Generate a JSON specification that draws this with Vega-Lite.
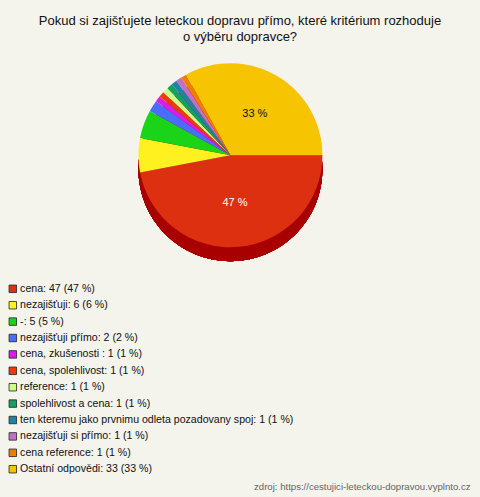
{
  "$schema": "https://vega.github.io/schema/vega-lite/v6.json",
  "autosize": "none",
  "padding": 0.5,
  "width": 479,
  "height": 496,
  "background": "#f4f4ec",
  "config": {
    "view": {"stroke": "#000000", "strokeWidth": 1, "fill": "#f4f4ec"},
    "font": "Liberation Sans"
  },
  "title": {
    "text": ["Pokud si zajišťujete leteckou dopravu přímo, které kritérium rozhoduje", "o výběru dopravce?"],
    "orient": "top",
    "frame": "group",
    "anchor": "middle",
    "baseline": "top",
    "offset": -43,
    "fontSize": 13,
    "fontWeight": "normal",
    "font": "Liberation Sans",
    "color": "#111111",
    "lineHeight": 16
  },
  "datasets": {
    "answers": [
      {"idx": 0, "answer": "cena", "count": 47, "pct": "47 %", "label": "cena: 47 (47 %)"},
      {"idx": 1, "answer": "nezajišťuji", "count": 6, "pct": "6 %", "label": "nezajišťuji: 6 (6 %)"},
      {"idx": 2, "answer": "-", "count": 5, "pct": "5 %", "label": "-: 5 (5 %)"},
      {"idx": 3, "answer": "nezajišťuji přímo", "count": 2, "pct": "2 %", "label": "nezajišťuji přímo: 2 (2 %)"},
      {"idx": 4, "answer": "cena, zkušenosti ", "count": 1, "pct": "1 %", "label": "cena, zkušenosti : 1 (1 %)"},
      {"idx": 5, "answer": "cena, spolehlivost", "count": 1, "pct": "1 %", "label": "cena, spolehlivost: 1 (1 %)"},
      {"idx": 6, "answer": "reference", "count": 1, "pct": "1 %", "label": "reference: 1 (1 %)"},
      {"idx": 7, "answer": "spolehlivost a cena", "count": 1, "pct": "1 %", "label": "spolehlivost a cena: 1 (1 %)"},
      {"idx": 8, "answer": "ten kteremu jako prvnimu odleta pozadovany spoj", "count": 1, "pct": "1 %", "label": "ten kteremu jako prvnimu odleta pozadovany spoj: 1 (1 %)"},
      {"idx": 9, "answer": "nezajišťuji si přímo", "count": 1, "pct": "1 %", "label": "nezajišťuji si přímo: 1 (1 %)"},
      {"idx": 10, "answer": "cena  reference", "count": 1, "pct": "1 %", "label": "cena  reference: 1 (1 %)"},
      {"idx": 11, "answer": "Ostatní odpovědi", "count": 33, "pct": "33 %", "label": "Ostatní odpovědi: 33 (33 %)"}
    ],
    "source": [
      {"src": "zdroj: https://cestujici-leteckou-dopravou.vyplnto.cz"}
    ]
  },
  "data": {"name": "answers"},
  "layer": [
    {
      "mark": {"type": "arc", "radius": 92, "color": "#a80000", "x": {"expr": "width*0.48"}, "y": {"expr": "height*0.312+14"}},
      "encoding": {}
    },
    {
      "mark": {"type": "arc", "radius": 92, "x": {"expr": "width*0.48"}, "y": {"expr": "height*0.312"}},
      "encoding": {
        "theta": {"field": "count", "type": "quantitative", "stack": true, "scale": {"range": [1.5708, 7.854]}},
        "order": {"field": "idx", "type": "quantitative"},
        "color": {
          "field": "label", "type": "nominal", "sort": null,
          "scale": {"range": ["#dc3010", "#fff020", "#1ad41a", "#4a6cff", "#d81ee6", "#ee3a08", "#ccff88", "#14a060", "#1e84a4", "#c070c8", "#f07c00", "#f6c400"]},
          "legend": {
            "orient": "none", "legendX": 7, "legendY": 283, "title": null,
            "symbolType": "square", "symbolSize": 56, "symbolStrokeColor": "#222222", "symbolStrokeWidth": 0.8,
            "symbolOpacity": 1,
            "labelFont": "Liberation Sans", "labelFontSize": 10.6, "labelColor": "#111111", "labelLimit": 460,
            "rowPadding": 4.4, "labelOffset": 2
          }
        }
      }
    },
    {
      "mark": {"type": "text", "radius": 48, "fontSize": 11, "font": "Liberation Sans", "x": {"expr": "width*0.48"}, "y": {"expr": "height*0.312"}},
      "encoding": {
        "theta": {"field": "count", "type": "quantitative", "stack": true},
        "order": {"field": "idx", "type": "quantitative"},
        "text": {"condition": {"test": "datum.count >= 20", "field": "pct"}, "value": ""},
        "color": {"condition": {"test": "datum.idx == 0", "value": "#ffffff"}, "value": "#111111"}
      }
    },
    {
      "data": {"name": "source"},
      "mark": {"type": "text", "align": "right", "baseline": "bottom", "fontSize": 9.6, "font": "Liberation Sans", "color": "#666666", "x": {"expr": "width-9"}, "y": {"expr": "height-5"}},
      "encoding": {"text": {"field": "src"}}
    }
  ]
}
